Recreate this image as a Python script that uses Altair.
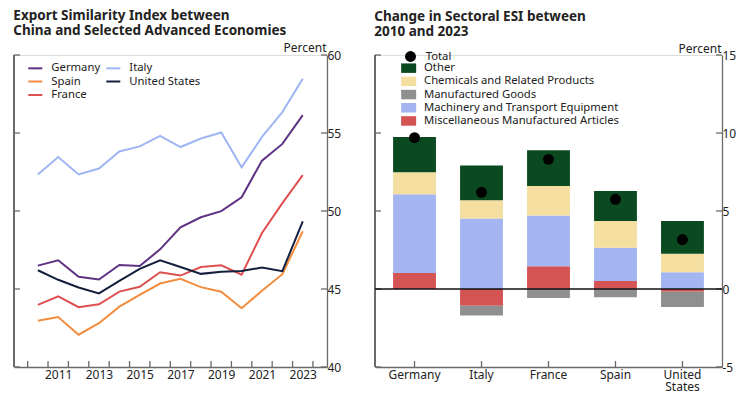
import altair as alt
import pandas as pd

# ---------------- data: left panel ----------------
years = list(range(2010, 2024))
germany = [46.50, 46.84, 45.78, 45.61, 46.54, 46.48, 47.54, 48.95, 49.60, 49.99, 50.88, 53.23, 54.30, 56.15]
italy = [52.34, 53.46, 52.34, 52.72, 53.82, 54.14, 54.81, 54.10, 54.65, 55.03, 52.80, 54.75, 56.34, 58.48]
france = [43.98, 44.53, 43.83, 44.02, 44.83, 45.14, 46.07, 45.86, 46.41, 46.52, 45.92, 48.59, 50.50, 52.30]
spain = [42.96, 43.20, 42.07, 42.81, 43.87, 44.63, 45.35, 45.65, 45.12, 44.83, 43.77, 44.89, 45.95, 48.70]
united_states = [46.20, 45.59, 45.10, 44.72, 45.52, 46.29, 46.84, 46.41, 45.97, 46.11, 46.16, 46.37, 46.14, 49.33]

line_countries = ["Germany", "Spain", "France", "Italy", "United States"]
line_colors = ["#5e3282", "#f28c3e", "#de4f4f", "#9fb6f3", "#13203d"]
left_y_ticks = [40, 45, 50, 55, 60]
left_x_labels = [2011, 2013, 2015, 2017, 2019, 2021, 2023]
left_x_ticks = [y - 0.5 for y in range(2010, 2025)]

# ---------------- data: right panel ----------------
bar_countries = ["Germany", "Italy", "France", "Spain", "United States"]
misc = [1.03, -1.08, 1.46, 0.51, -0.17]
machinery = [5.04, 4.52, 3.25, 2.13, 1.08]
manufactured = [0.0, -0.62, -0.57, -0.53, -0.99]
chemicals = [1.42, 1.17, 1.89, 1.72, 1.18]
other = [2.26, 2.22, 2.30, 1.92, 2.10]
total = [9.70, 6.20, 8.31, 5.75, 3.17]

sectors_legend = ["Other", "Chemicals and Related Products", "Manufactured Goods",
                  "Machinery and Transport Equipment", "Miscellaneous Manufactured Articles"]
sector_colors = ["#0b4a20", "#f5dfa0", "#8f8f8f", "#a3b6f1", "#d45353"]
right_y_ticks = [-5, 0, 5, 10, 15]

AX = "#6a6a6a"
TXT = "#222222"
FONT = "Noto Sans"
LEG_FS = 11.3

# ---------------- left panel ----------------
W1, H1 = 313, 312
series = {"Germany": germany, "Italy": italy, "Spain": spain,
          "United States": united_states, "France": france}
rows = []
for c in ["Germany", "Italy", "Spain", "France", "United States"]:
    for yr, v in zip(years, series[c]):
        rows.append({"country": c, "year": yr, "value": v})
df_lines = pd.DataFrame(rows)

xscale1 = alt.Scale(domain=[2008.83, 2024.19], nice=False, zero=False)
yscale1 = alt.Scale(domain=[40, 60], nice=False, zero=False)
xaxis1 = alt.Axis(values=left_x_labels, format="d", ticks=False, grid=False,
                  domainColor=AX, domainWidth=1.3, labelPadding=2,
                  labelFontSize=12, labelColor=TXT, title=None, labelOverlap=False)
yaxis1 = alt.Axis(orient="right", values=left_y_ticks, ticks=False, grid=False,
                  domainColor=AX, domainWidth=1.3, labelPadding=0,
                  labelFontSize=12, labelColor=TXT,
                  title="Percent", titleAngle=0, titleAlign="right",
                  titleBaseline="alphabetic", titleX=-1, titleY=-4,
                  titleFontWeight="normal", titleFontSize=12, titleColor=TXT)

lines = alt.Chart(df_lines).mark_line(strokeWidth=2).encode(
    x=alt.X("year:Q", scale=xscale1, axis=xaxis1),
    y=alt.Y("value:Q", scale=yscale1, axis=yaxis1),
    color=alt.Color("country:N", sort=line_countries,
                    scale=alt.Scale(domain=line_countries, range=line_colors),
                    legend=alt.Legend(title=None, orient="none", legendX=15.3, legendY=7,
                                      columns=2, columnPadding=2, rowPadding=1.5,
                                      symbolType="M-1.4,0L1.4,0", symbolSize=100,
                                      symbolStrokeWidth=2, labelOffset=10,
                                      labelFontSize=LEG_FS, labelColor=TXT, padding=0)),
)

df_xt = pd.DataFrame({"xb": left_x_ticks})
xt1 = alt.Chart(df_xt).mark_rule(color=AX, strokeWidth=1.3).encode(
    x=alt.X("xb:Q", scale=xscale1, axis=xaxis1),
    y=alt.value(H1), y2=alt.value(H1 - 6))
df_yt1 = pd.DataFrame({"v": left_y_ticks})
lt1 = alt.Chart(df_yt1).mark_rule(color=AX, strokeWidth=1.3).encode(
    y=alt.Y("v:Q", scale=yscale1, axis=yaxis1), x=alt.value(0), x2=alt.value(6))
rt1 = alt.Chart(df_yt1).mark_rule(color=AX, strokeWidth=1.3).encode(
    y=alt.Y("v:Q", scale=yscale1, axis=yaxis1), x=alt.value(W1 - 6), x2=alt.value(W1))
lb1 = alt.Chart(df_yt1).mark_rule(color=AX, strokeWidth=1.3).encode(
    x=alt.value(0), y=alt.value(0), y2=alt.value(H1))

left = alt.layer(lines, lt1, rt1, lb1, xt1).properties(
    width=W1, height=H1,
    title=alt.TitleParams(["Export Similarity Index between",
                           "China and Selected Advanced Economies"],
                          anchor="start", fontSize=13.5, fontWeight="bold", color=TXT,
                          font=FONT, lineHeight=14.5, offset=4))

# ---------------- right panel ----------------
W2, H2 = 347, 312
sector_values = {
    "Miscellaneous Manufactured Articles": (misc, 0),
    "Machinery and Transport Equipment": (machinery, 1),
    "Manufactured Goods": (manufactured, 2),
    "Chemicals and Related Products": (chemicals, 3),
    "Other": (other, 4),
}
brow = []
for s, (vals, o) in sector_values.items():
    for c, v in zip(bar_countries, vals):
        brow.append({"country": c, "sector": s, "value": v, "ord": o})
df_bars = pd.DataFrame(brow)
df_tot = pd.DataFrame({"country": bar_countries, "total": total, "label": ["Total"] * 5})

xscale2 = alt.Scale(domain=bar_countries, paddingInner=0.36, paddingOuter=0.27)
yscale2 = alt.Scale(domain=[-5, 15], nice=False, zero=False)
xaxis2 = alt.Axis(ticks=False, grid=False, domainColor=AX, domainWidth=1.3,
                  labelAngle=0, labelPadding=2, labelFontSize=12, labelColor=TXT,
                  labelExpr="split(datum.label, ' ')", labelLineHeight=12.5, title=None)
yaxis2 = alt.Axis(orient="right", values=right_y_ticks, ticks=False, grid=False,
                  domainColor=AX, domainWidth=1.3, labelPadding=0,
                  labelFontSize=12, labelColor=TXT, labelExpr="'' + datum.value",
                  title="Percent", titleAngle=0, titleAlign="right",
                  titleBaseline="alphabetic", titleX=-1, titleY=-3,
                  titleFontWeight="normal", titleFontSize=12, titleColor=TXT)

bars = alt.Chart(df_bars).mark_bar().encode(
    x=alt.X("country:N", sort=bar_countries, scale=xscale2, axis=xaxis2),
    y=alt.Y("value:Q", stack="zero", scale=yscale2, axis=yaxis2),
    color=alt.Color("sector:N", sort=sectors_legend,
                    scale=alt.Scale(domain=sectors_legend, range=sector_colors),
                    legend=alt.Legend(title=None, orient="none", legendX=28, legendY=7.5,
                                      symbolType="M-1.5,-0.95L1.5,-0.95L1.5,0.95L-1.5,0.95Z",
                                      symbolSize=100, symbolStrokeWidth=0,
                                      symbolOpacity=1, rowPadding=1.2, labelOffset=9.7,
                                      labelLimit=400,
                                      labelFontSize=LEG_FS, labelColor=TXT, padding=0)),
    order=alt.Order("ord:Q"),
)

dots = alt.Chart(df_tot).mark_point(filled=True, size=120, color="black", opacity=1).encode(
    x=alt.X("country:N", sort=bar_countries, scale=xscale2, axis=xaxis2),
    y=alt.Y("total:Q", scale=yscale2, axis=yaxis2),
    shape=alt.Shape("label:N", scale=alt.Scale(domain=["Total"], range=["circle"]),
                    legend=alt.Legend(title=None, orient="none", legendX=29, legendY=-5,
                                      symbolSize=120, symbolFillColor="black",
                                      symbolStrokeColor="black", labelOffset=8.7,
                                      labelFontSize=LEG_FS, labelColor=TXT, padding=0)),
)

zero = alt.Chart(pd.DataFrame({"z": [0]})).mark_rule(color="#111111", strokeWidth=1.5).encode(
    y=alt.Y("z:Q", scale=yscale2, axis=yaxis2), x=alt.value(0), x2=alt.value(W2))

df_yt2 = pd.DataFrame({"v": right_y_ticks})
lt2 = alt.Chart(df_yt2).mark_rule(color=AX, strokeWidth=1.3).encode(
    y=alt.Y("v:Q", scale=yscale2, axis=yaxis2), x=alt.value(0), x2=alt.value(6))
rt2 = alt.Chart(df_yt2).mark_rule(color=AX, strokeWidth=1.3).encode(
    y=alt.Y("v:Q", scale=yscale2, axis=yaxis2), x=alt.value(W2 - 6), x2=alt.value(W2))
lb2 = alt.Chart(df_yt2).mark_rule(color=AX, strokeWidth=1.3).encode(
    x=alt.value(0), y=alt.value(0), y2=alt.value(H2))
xt2 = alt.Chart(pd.DataFrame({"country": bar_countries})).mark_rule(color=AX, strokeWidth=1.3).encode(
    x=alt.X("country:N", sort=bar_countries, scale=xscale2, axis=xaxis2),
    y=alt.value(H2), y2=alt.value(H2 - 6))

right = alt.layer(bars, lt2, rt2, lb2, xt2, zero, dots).properties(
    width=W2, height=H2,
    title=alt.TitleParams(["Change in Sectoral ESI between", "2010 and 2023"],
                          anchor="start", fontSize=13.5, fontWeight="bold", color=TXT,
                          font=FONT, lineHeight=14.5, offset=4))

chart = alt.hconcat(left, right, spacing=31).resolve_scale(
    color="independent", shape="independent"
).properties(
    padding={"left": 4, "top": 0, "right": 0, "bottom": 0}
).configure_view(stroke=None).configure(font=FONT)

chart.save("out.html", embed_options={"renderer": "svg", "actions": False})
